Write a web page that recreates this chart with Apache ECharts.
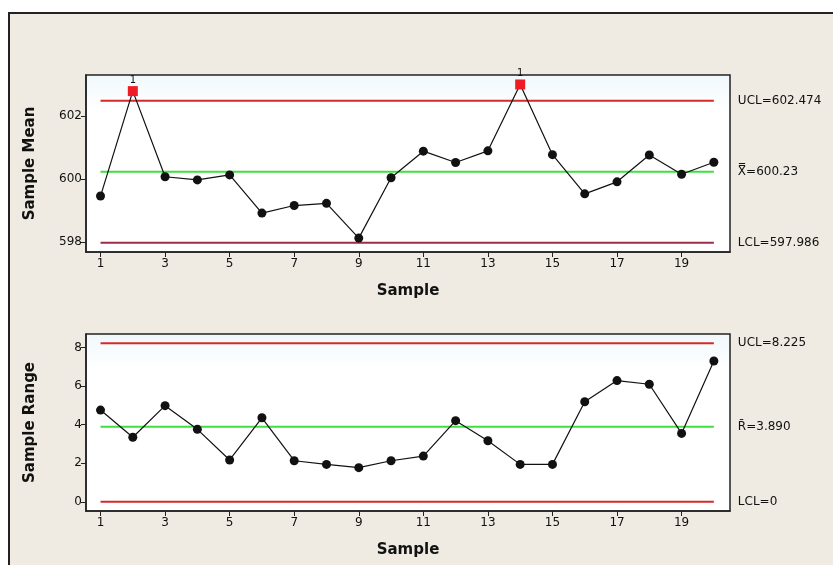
<!DOCTYPE html>
<html>
<head>
<meta charset="utf-8">
<script src="https://cdn.jsdelivr.net/npm/echarts@6/dist/echarts.min.js"></script>
<style>
  html, body { margin: 0; padding: 0; background: #ffffff; }
  #spcChart { width: 833px; height: 565px; }
</style>
</head>
<body>
<div id="spcChart"></div>
<script>
// 样本编号
const samples = [1, 2, 3, 4, 5, 6, 7, 8, 9, 10, 11, 12, 13, 14, 15, 16, 17, 18, 19, 20];
// 样本均值
const meanValues = [599.46, 602.78, 600.07, 599.97, 600.13, 598.92, 599.16, 599.23, 598.13, 600.04,
  600.88, 600.52, 600.89, 602.99, 600.77, 599.53, 599.91, 600.76, 600.15, 600.53];
// 样本极差
const rangeValues = [4.76, 3.35, 4.99, 3.76, 2.17, 4.36, 2.13, 1.94, 1.77, 2.13,
  2.37, 4.21, 3.17, 1.94, 1.94, 5.19, 6.29, 6.10, 3.55, 7.31];
// 控制限
const meanLimits = { ucl: 602.474, cl: 600.23, lcl: 597.986 };
const rangeLimits = { ucl: 8.225, cl: 3.890, lcl: 0 };
// 刻度
const xTicks = [1, 3, 5, 7, 9, 11, 13, 15, 17, 19];
const meanTicks = [598, 600, 602];
const rangeTicks = [0, 2, 4, 6, 8];

const font = "DejaVu Sans";

const limitLine = (name, value, idx, color, label) => ({
  name,
  type: "line",
  xAxisIndex: idx,
  yAxisIndex: idx,
  data: [[samples[0], value], [samples[samples.length - 1], value]],
  symbol: "none",
  silent: true,
  z: 2,
  lineStyle: { color, width: 2 },
  endLabel: {
    show: true,
    distance: 24,
    formatter: label,
    color: "#111",
    fontFamily: font,
    fontSize: 12,
  },
});

const pointSeries = (values, idx, ucl, lcl) => ({
  type: "line",
  xAxisIndex: idx,
  yAxisIndex: idx,
  z: 5,
  symbol: "circle",
  symbolSize: 9,
  itemStyle: { color: "#111" },
  lineStyle: { color: "#111", width: 1.2 },
  data: values.map((v, i) => {
    if (v > ucl || v < lcl) {
      return {
        value: [samples[i], v],
        symbol: "rect",
        symbolSize: 10,
        itemStyle: { color: "#ee1c24" },
        label: { show: true, position: "top", distance: 1, formatter: "1", fontSize: 10, color: "#111", fontFamily: font },
      };
    }
    return [samples[i], v];
  }),
});

const plotBg = {
  type: "linear", x: 0, y: 0, x2: 0, y2: 1,
  colorStops: [
    { offset: 0, color: "#f0f8fc" },
    { offset: 0.2, color: "#ffffff" },
    { offset: 1, color: "#ffffff" },
  ],
};

const xAxisBase = (idx) => ({
  type: "value",
  gridIndex: idx,
  min: 0.55,
  max: 20.5,
  name: "Sample",
  nameLocation: "middle",
  nameGap: 32,
  nameTextStyle: { fontFamily: font, fontSize: 15, fontWeight: "bold", color: "#111" },
  axisLine: { onZero: false, lineStyle: { color: "#222", width: 1.5 } },
  axisTick: { customValues: xTicks, length: 5, lineStyle: { color: "#222" } },
  axisLabel: { customValues: xTicks, fontFamily: font, fontSize: 12, color: "#111", margin: 6 },
  splitLine: { show: false },
});

const yAxisBase = (idx, name, min, max, ticks) => ({
  type: "value",
  gridIndex: idx,
  min,
  max,
  name,
  nameLocation: "middle",
  nameGap: 48,
  nameTextStyle: { fontFamily: font, fontSize: 15, fontWeight: "bold", color: "#111" },
  axisLine: { show: true, onZero: false, lineStyle: { color: "#222", width: 1.5 } },
  axisTick: { show: true, customValues: ticks, length: 5, lineStyle: { color: "#222" } },
  axisLabel: { customValues: ticks, fontFamily: font, fontSize: 12, color: "#111", margin: 4 },
  splitLine: { show: false },
});

let chartOption = {
  backgroundColor: "#ffffff",
  animation: false,
  graphic: [
    {
      type: "rect",
      z: -10,
      shape: { x: 9, y: 13, width: 900, height: 700 },
      style: { fill: "#efebe2", stroke: "#222", lineWidth: 2 },
    },
  ],
  grid: [
    { left: 86, top: 75, width: 644, height: 177, show: true, backgroundColor: plotBg, borderColor: "#222", borderWidth: 1.5 },
    { left: 86, top: 334, width: 644, height: 177, show: true, backgroundColor: plotBg, borderColor: "#222", borderWidth: 1.5 },
  ],
  xAxis: [xAxisBase(0), xAxisBase(1)],
  yAxis: [
    yAxisBase(0, "Sample Mean", 597.69, 603.29, meanTicks),
    yAxisBase(1, "Sample Range", -0.48, 8.71, rangeTicks),
  ],
  series: [
    limitLine("UCL", meanLimits.ucl, 0, "#d42a2a", "UCL=" + meanLimits.ucl),
    limitLine("CL", meanLimits.cl, 0, "#3ee03e", "X\u033F=" + meanLimits.cl),
    limitLine("LCL", meanLimits.lcl, 0, "#9c2e4a", "LCL=" + meanLimits.lcl),
    pointSeries(meanValues, 0, meanLimits.ucl, meanLimits.lcl),
    limitLine("UCL", rangeLimits.ucl, 1, "#d42a2a", "UCL=" + rangeLimits.ucl),
    limitLine("CL", rangeLimits.cl, 1, "#3ee03e", "R\u0304=" + rangeLimits.cl.toFixed(3)),
    limitLine("LCL", rangeLimits.lcl, 1, "#d42a2a", "LCL=" + rangeLimits.lcl),
    pointSeries(rangeValues, 1, rangeLimits.ucl, rangeLimits.lcl),
  ],
};

const myChart = echarts.init(document.getElementById("spcChart"));
myChart.setOption(chartOption);
</script>
</body>
</html>
